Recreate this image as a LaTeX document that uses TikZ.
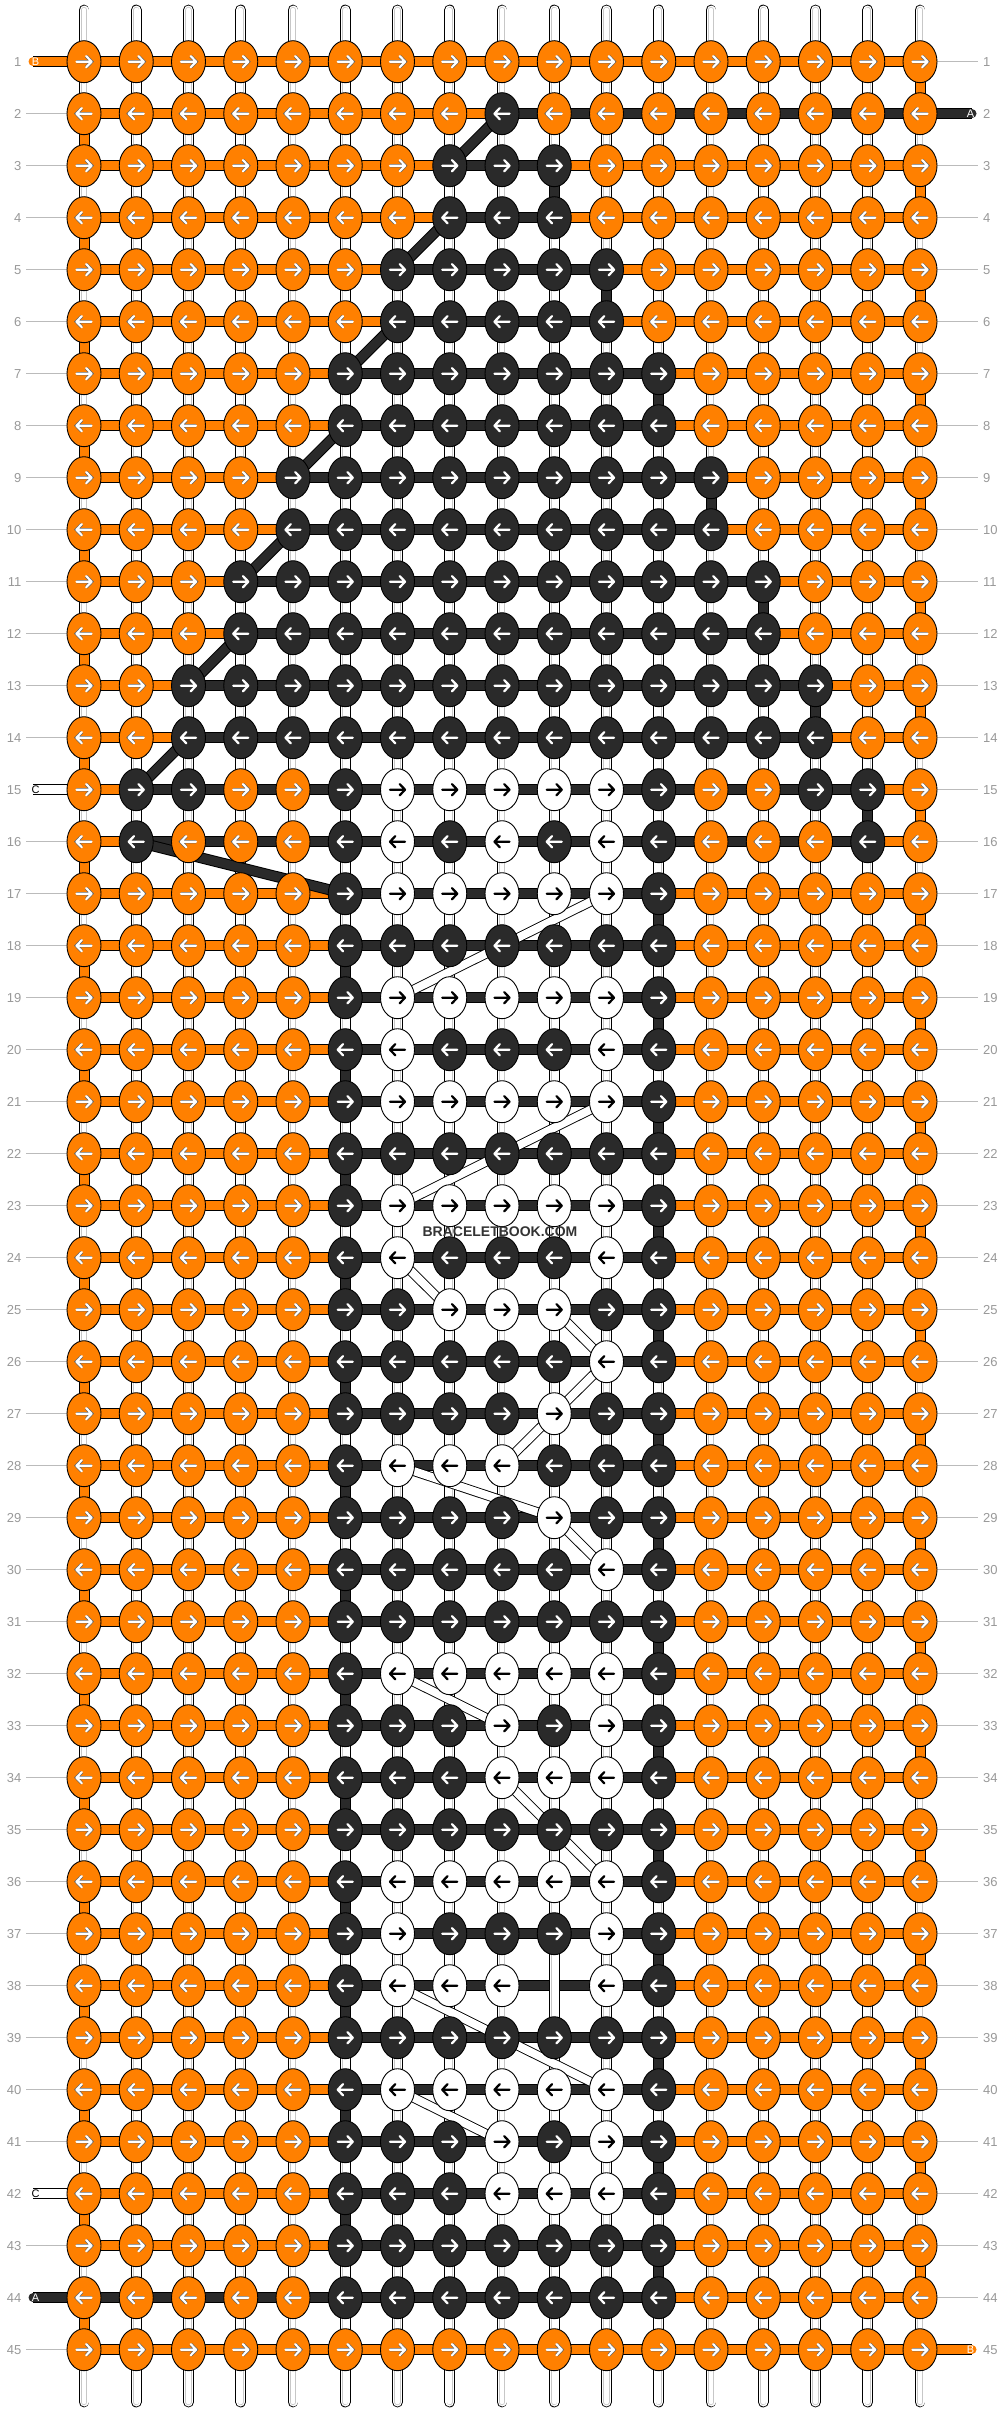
\documentclass[tikz,border=0pt]{standalone}
\usepackage{fontspec}
\setmainfont{Liberation Sans}
\usetikzlibrary{shapes.geometric}
\definecolor{org}{HTML}{FF8000}
\definecolor{drk}{HTML}{2A2A2A}
\definecolor{rnum}{HTML}{999999}
\definecolor{rline}{HTML}{BBBBBB}
\definecolor{wmk}{HTML}{333333}
\newcount\colc
\def\knotrow#1#2{\def\currow{#1}\global\colc=0 \ifodd#1 \def\dir{1}\else\def\dir{-1}\fi\knotrowi#2\relax}
\def\knotrowi#1{\ifx#1\relax\else\global\advance\colc by 1 \knotat#1\expandafter\knotrowi\fi}
\def\knotat#1{\if#1X\else
  \node[k#1] (k\currow-\the\colc) at (p\currow-\the\colc) {};
  \draw[ar#1,shift={(p\currow-\the\colc)},xscale=\dir] (-7.6,0) -- (7.6,0) (2.2,-5.6) -- (7.6,0) -- (2.2,5.6);
\fi}
\begin{document}
\begin{tikzpicture}[x=1pt,y=-1pt,
 knotbase/.style={ellipse,draw=black,line width=0.9pt,minimum width=34pt,minimum height=42pt,inner sep=0pt,outer sep=0pt},
 kO/.style={knotbase,fill=org},
 kD/.style={knotbase,fill=drk},
 kW/.style={knotbase,fill=white},
 arrowbase/.style={line cap=round,line join=round},
 arO/.style={arrowbase,draw=white,line width=2.1pt,preaction={draw=black!60,line width=3.4pt}},
 arD/.style={arrowbase,draw=white,line width=2.2pt},
 arW/.style={arrowbase,draw=black,line width=2.2pt},
 thO/.style={draw=org,line width=9pt,preaction={draw=black,line width=11pt}},
 thD/.style={draw=drk,line width=9pt,preaction={draw=black,line width=11pt}},
 thW/.style={draw=white,line width=9pt,preaction={draw=black,line width=11pt}},
 thWd/.style={draw=white,line width=8pt,preaction={draw=black,line width=9.8pt}},
 strand/.style={draw=white,line width=9pt,line cap=round,preaction={draw=black,line width=10.8pt,line cap=round},postaction={draw=black!22,line width=6.2pt,line cap=round},postaction={draw=white,line width=4.6pt,line cap=round}},
 rnumst/.style={font=\fontsize{13}{13}\selectfont,text=rnum,inner sep=0pt},
 rowline/.style={draw=rline,line width=1pt},
 lbl/.style={font=\fontsize{11}{11}\selectfont,inner sep=0pt},
]
\fill[white] (0,0) rectangle (1000,2412);
\useasboundingbox (0,0) rectangle (1000,2412);
% grid coordinates
\foreach \r in {1,...,45}{\foreach \c in {1,...,17}{\coordinate (p\r-\c) at ({84+52.25*(\c-1)},{61.7+52*(\r-1)});}}
% free ends of threads
\coordinate (eL1) at (33,61.7);
\coordinate (eR2) at (972,113.7);
\coordinate (eL15) at (33,789.7);
\coordinate (eL42) at (33,2193.7);
\coordinate (eL44) at (33,2297.7);
\coordinate (eR45) at (972,2349.7);
% row numbers and guide lines
\foreach \r in {1,...,45}{
  \pgfmathsetmacro\yy{61.7+52*(\r-1)}
  \node[rnumst,anchor=east] (ln\r) at (21.5,\yy) {\r};
  \node[rnumst,anchor=west] (rn\r) at (983,\yy) {\r};
  \coordinate (gl\r) at (26,\yy);
  \coordinate (gr\r) at (978,\yy);
  \pgfmathtruncatemacro\skipL{(\r==1)||(\r==15)||(\r==42)||(\r==44)}
  \pgfmathtruncatemacro\skipR{(\r==2)||(\r==45)}
  \ifnum\skipL=0 \draw[rowline] (gl\r) -- (p\r-1);\fi
  \ifnum\skipR=0 \draw[rowline] (p\r-17) -- (gr\r);\fi
}
% white thread stubs
\draw[thW,line cap=round] (eL15) -- (p15-1);
\draw[thW,line cap=round] (eL42) -- (p42-1);
% orange rows
\draw[thO,line cap=round] (eL1) -- (p1-17);
\foreach \r in {2,...,44}{\draw[thO] (p\r-1) -- (p\r-17);}
\draw[thO,line cap=round] (p45-1) -- (eR45);
% dark rows
\draw[thD,line cap=round] (p2-9) -- (eR2);
\foreach \r/\a/\b in {3/8/10,4/8/10,5/7/11,6/7/11,7/6/12,8/6/12,9/5/13,10/5/13,11/4/14,12/4/14,13/3/15,14/3/15,15/2/16,16/2/16}{\draw[thD] (p\r-\a) -- (p\r-\b);}
\foreach \r in {17,...,43}{\draw[thD] (p\r-6) -- (p\r-12);}
\draw[thD,line cap=round] (eL44) -- (p44-12);
% vertical strings
\foreach \c in {1,...,17}{
  \pgfmathsetmacro\xx{84+52.25*(\c-1)}
  \coordinate (st\c) at (\xx,10);
  \coordinate (sb\c) at (\xx,2402);
  \draw[strand] (st\c) -- (sb\c);
}
% dark diagonals
\foreach \ra/\ca/\rb/\cb in {2/9/3/8,4/8/5/7,6/7/7/6,8/6/9/5,10/5/11/4,12/4/13/3,14/3/15/2,16/2/17/6}{\draw[thD] (p\ra-\ca) -- (p\rb-\cb);}
% white diagonals
\foreach \ra/\ca/\rb/\cb in {17/11/19/7,21/11/23/7,24/7/25/8,25/10/26/11,26/11/27/10,27/10/28/9,28/7/29/10,29/10/30/11,32/7/33/9,34/9/36/11,38/7/40/11,40/7/41/9}{\draw[thWd] (p\ra-\ca) -- (p\rb-\cb);}
% orange turn connectors
\foreach \r/\rn in {2/3,4/5,6/7,8/9,10/11,12/13,14/15,16/17,18/19,20/21,22/23,24/25,26/27,28/29,30/31,32/33,34/35,36/37,38/39,40/41,42/43,44/45}{\draw[thO] (p\r-1) -- (p\rn-1);}
\foreach \r/\rn in {1/2,3/4,5/6,7/8,9/10,11/12,13/14,15/16,17/18,19/20,21/22,23/24,25/26,27/28,29/30,31/32,33/34,35/36,37/38,39/40,41/42,43/44}{\draw[thO] (p\r-17) -- (p\rn-17);}
% dark turn connectors
\foreach \r/\rn/\c in {3/4/10,5/6/11,7/8/12,9/10/13,11/12/14,13/14/15,15/16/16}{\draw[thD] (p\r-\c) -- (p\rn-\c);}
\foreach \r/\rn in {17/18,19/20,21/22,23/24,25/26,27/28,29/30,31/32,33/34,35/36,37/38,39/40,41/42,43/44}{\draw[thD] (p\r-12) -- (p\rn-12);}
\foreach \r/\rn in {18/19,20/21,22/23,24/25,26/27,28/29,30/31,32/33,34/35,36/37,38/39,40/41,42/43}{\draw[thD] (p\r-6) -- (p\rn-6);}
% knots
\knotrow{1}{OOOOOOOOOOOOOOOOO}
\knotrow{2}{OOOOOOOODOOOOOOOO}
\knotrow{3}{OOOOOOODDDOOOOOOO}
\knotrow{4}{OOOOOOODDDOOOOOOO}
\knotrow{5}{OOOOOODDDDDOOOOOO}
\knotrow{6}{OOOOOODDDDDOOOOOO}
\knotrow{7}{OOOOODDDDDDDOOOOO}
\knotrow{8}{OOOOODDDDDDDOOOOO}
\knotrow{9}{OOOODDDDDDDDDOOOO}
\knotrow{10}{OOOODDDDDDDDDOOOO}
\knotrow{11}{OOODDDDDDDDDDDOOO}
\knotrow{12}{OOODDDDDDDDDDDOOO}
\knotrow{13}{OODDDDDDDDDDDDDOO}
\knotrow{14}{OODDDDDDDDDDDDDOO}
\knotrow{15}{ODDOODWWWWWDOODDO}
\knotrow{16}{ODOOODWDWDWDOOODO}
\knotrow{17}{OOOOODWWWWWDOOOOO}
\knotrow{18}{OOOOODDDDDDDOOOOO}
\knotrow{19}{OOOOODWWWWWDOOOOO}
\knotrow{20}{OOOOODWDDDWDOOOOO}
\knotrow{21}{OOOOODWWWWWDOOOOO}
\knotrow{22}{OOOOODDDDDDDOOOOO}
\knotrow{23}{OOOOODWWWWWDOOOOO}
\knotrow{24}{OOOOODWDDDWDOOOOO}
\knotrow{25}{OOOOODDWWWDDOOOOO}
\knotrow{26}{OOOOODDDDDWDOOOOO}
\knotrow{27}{OOOOODDDDWDDOOOOO}
\knotrow{28}{OOOOODWWWDDDOOOOO}
\knotrow{29}{OOOOODDDDWDDOOOOO}
\knotrow{30}{OOOOODDDDDWDOOOOO}
\knotrow{31}{OOOOODDDDDDDOOOOO}
\knotrow{32}{OOOOODWWWWWDOOOOO}
\knotrow{33}{OOOOODDDWDWDOOOOO}
\knotrow{34}{OOOOODDDWWWDOOOOO}
\knotrow{35}{OOOOODDDDDDDOOOOO}
\knotrow{36}{OOOOODWWWWWDOOOOO}
\knotrow{37}{OOOOODWDDDWDOOOOO}
\knotrow{38}{OOOOODWWWXWDOOOOO}
\knotrow{39}{OOOOODDDDDDDOOOOO}
\knotrow{40}{OOOOODWWWWWDOOOOO}
\knotrow{41}{OOOOODDDWDWDOOOOO}
\knotrow{42}{OOOOODDDWWWDOOOOO}
\knotrow{43}{OOOOODDDDDDDOOOOO}
\knotrow{44}{OOOOODDDDDDDOOOOO}
\knotrow{45}{OOOOOOOOOOOOOOOOO}
% thread end labels
\node[lbl,text=white] (tB1) at (35.5,61.7) {B};
\node[lbl,text=white] (tA2) at (970.5,113.7) {A};
\node[lbl,text=black] (tC15) at (35.5,789.7) {C};
\node[lbl,text=black] (tC42) at (35.5,2193.7) {C};
\node[lbl,text=white] (tA44) at (35.5,2297.7) {A};
\node[lbl,text=white] (tB45) at (970.5,2349.7) {B};
% watermark
\node[font=\bfseries\fontsize{14}{14}\selectfont,text=wmk,inner sep=0pt] (wmark) at (500,1232) {BRACELETBOOK.COM};
\end{tikzpicture}
\end{document}
